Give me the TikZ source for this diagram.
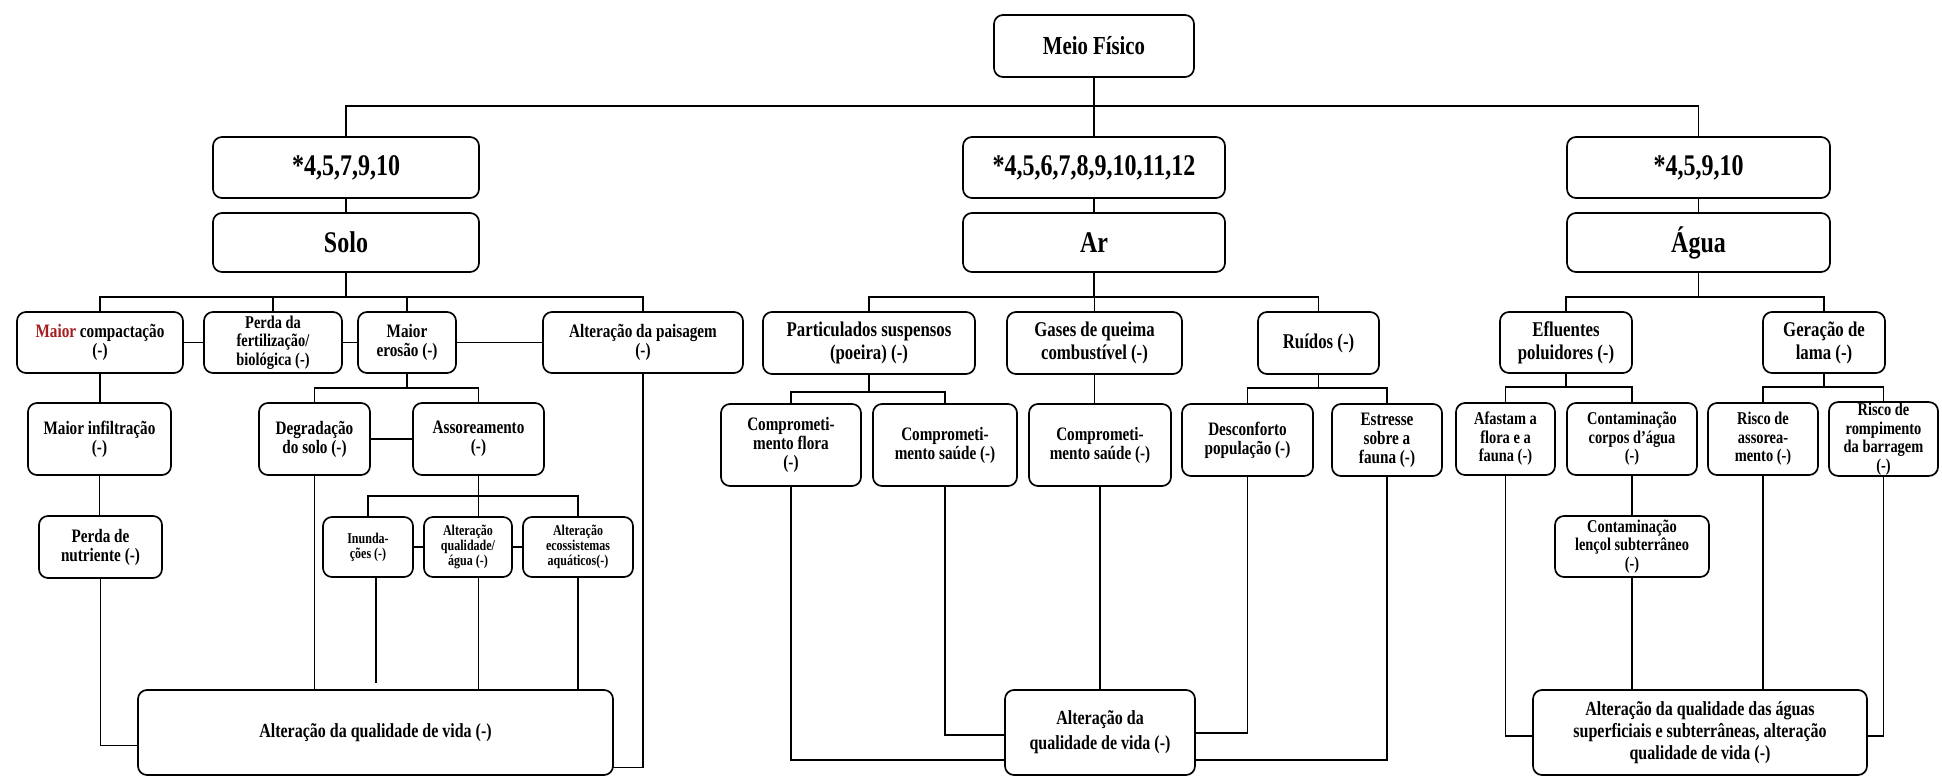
\documentclass[tikz,border=0pt]{standalone}
\usepackage{fontspec}
\setmainfont{Liberation Serif}[FakeStretch=0.8]
\usetikzlibrary{calc}
\definecolor{darkred}{RGB}{165,30,30}
\tikzset{
  box/.style={draw, rounded corners=9pt, line width=1.7pt, align=center, inner sep=1pt, outer sep=0pt},
  head/.style={font=\bfseries\fontsize{30}{32}\selectfont},
  meiof/.style={font=\bfseries\fontsize{26}{28}\selectfont},
  fbig/.style={font=\bfseries\fontsize{21}{23}\selectfont},
  fmid/.style={font=\bfseries\fontsize{19}{19}\selectfont},
  fsm/.style={font=\bfseries\fontsize{18}{18.5}\selectfont},
  fxs/.style={font=\bfseries\fontsize{15}{14.8}\selectfont},
  fbot/.style={font=\bfseries\fontsize{20}{22}\selectfont},
  fbotm/.style={font=\bfseries\fontsize{20}{25}\selectfont},
  conn/.style={line width=1.4pt},
}
\newcommand{\mybox}[7][]{\node[box,minimum width={(#5)-(#3)},minimum height={(#6)-(#4)},#1] (#2) at ({((#3)+(#5))/2},{((#4)+(#6))/2}) {#7};}
\begin{document}
\begin{tikzpicture}[x=1pt,y=-1pt]
\useasboundingbox (0,0) rectangle (1942,778);
\coordinate (bS) at (0,297);
\coordinate (bT) at (0,106);
% top levels
\mybox[meiof]{meio}{994}{15}{1194}{77}{Meio Físico}
\mybox[head]{sL}{213}{137}{479}{198}{*4,5,7,9,10}
\mybox[head]{sM}{963}{137}{1225}{198}{*4,5,6,7,8,9,10,11,12}
\mybox[head]{sR}{1567}{137}{1830}{198}{*4,5,9,10}
\mybox[head]{solo}{213}{213}{479}{272}{Solo}
\mybox[head]{ar}{963}{213}{1225}{272}{Ar}
\mybox[head]{agua}{1567}{213}{1830}{272}{Água}
% row 1
\mybox[fmid]{mc}{17}{312}{183}{373}{{\color{darkred}Maior} compactação\\(-)}
\mybox[fsm]{pf}{204}{312}{342}{373}{Perda da\\fertilização/\\biológica (-)}
\mybox[fmid]{me}{358}{312}{456}{373}{Maior\\erosão (-)}
\mybox[fmid]{pa}{543}{312}{743}{373}{Alteração da paisagem\\(-)}
\mybox[fbig]{pt}{763}{312}{975}{374}{Particulados suspensos\\(poeira) (-)}
\mybox[fbig]{gq}{1007}{312}{1182}{374}{Gases de queima\\combustível (-)}
\mybox[fbig]{ru}{1258}{312}{1379}{374}{Ruídos (-)}
\mybox[fbig]{ef}{1500}{312}{1632}{373}{Efluentes\\poluidores (-)}
\mybox[fbig]{gl}{1763}{312}{1885}{373}{Geração de\\lama (-)}
% row 2
\mybox[fmid]{mi}{28}{403}{171}{475}{Maior infiltração\\(-)}
\mybox[fmid]{dg}{259}{403}{370}{475}{Degradação\\do solo (-)}
\mybox[fmid]{as}{413}{403}{544}{475}{Assoreamento\\(-)}
\mybox[fmid]{cf}{721}{404}{861}{486}{Comprometi-\\mento flora\\(-)}
\mybox[fmid]{cs}{873}{404}{1017}{486}{Comprometi-\\mento  saúde (-)}
\mybox[fmid]{csb}{1029}{404}{1171}{486}{Comprometi-\\mento saúde (-)}
\mybox[fmid]{dc}{1182}{404}{1313}{476}{Desconforto\\população (-)}
\mybox[fmid]{es}{1332}{404}{1442}{476}{Estresse\\sobre a\\fauna (-)}
\mybox[fsm]{af}{1456}{403}{1555}{475}{Afastam a\\flora e a\\fauna (-)}
\mybox[fsm]{cc}{1567}{403}{1697}{475}{Contaminação\\corpos d'água\\(-)}
\mybox[fsm]{ra}{1708}{403}{1818}{475}{Risco de\\assorea-\\mento (-)}
\mybox[fsm]{rr}{1829}{403}{1938}{475}{Risco de\\rompimento\\da barragem\\(-)}
% row 3
\mybox[fmid]{pn}{39}{516}{162}{578}{Perda de\\nutriente (-)}
\mybox[fxs]{in}{323}{517}{413}{577}{Inunda-\\ções (-)}
\mybox[fxs]{aq}{424}{517}{512}{577}{Alteração\\qualidade/\\água (-)}
\mybox[fxs]{ae}{523}{517}{633}{577}{Alteração\\ecossistemas\\aquáticos(-)}
\mybox[fsm]{cl}{1555}{516}{1709}{577}{Contaminação\\lençol subterrâneo\\(-)}
% bottom
\mybox[fbot]{bl}{138}{690}{613}{775}{Alteração da qualidade  de vida (-)}
\mybox[fbotm]{bm}{1005}{690}{1195}{775}{Alteração da\\qualidade de vida (-)}
\mybox[fbot]{br}{1533}{690}{1867}{775}{Alteração da qualidade das águas\\superficiais e subterrâneas, alteração\\qualidade de vida (-)}

% ---- connectors: top
\draw[conn] (meio.south) -- (sM.north);
\draw[conn] (sL.north) -- (sL.north |- bT) -| (sR.north);
\draw[conn] (sL.south) -- (solo.north);
\draw[conn] (sM.south) -- (ar.north);
\draw[conn] (sR.south) -- (agua.north);
% Solo
\draw[conn] (solo.south) -- (solo.south |- bS);
\draw[conn] (mc.north) -- (mc.north |- bS) -| (pa.north);
\draw[conn] (pf.north) -- (pf.north |- bS);
\draw[conn] (me.north) -- (me.north |- bS);
\draw[conn] (mc.east) -- (pf.west);
\draw[conn] (pf.east) -- (me.west);
\draw[conn] (me.east) -- (pa.west);
\draw[conn] (mc.south) -- (mc.south |- mi.north);
\draw[conn] (mi.south) -- (mi.south |- pn.north);
\draw[conn] (me.south) -- ++(0,15);
\draw[conn] (dg.north) |- ($(me.south)+(0,15)$) -| (as.north);
\draw[conn] (dg.east) -- (as.west);
\draw[conn] (as.south) -- (as.south |- aq.north);
\draw[conn] (in.north) |- ($(as.south)+(0,21)$) -| (ae.north);
\draw[conn] (in.east) -- (aq.west);
\draw[conn] (aq.east) -- (ae.west);
\draw[conn] (pn.south) |- ($(bl.west)+(0,13)$);
\draw[conn] (dg.south) -- (dg.south |- bl.north);
\draw[conn] ($(in.south)+(8,0)$) -- ++(0,106);
\draw[conn] (aq.south -| as.south) -- (bl.north -| as.south);
\draw[conn] (ae.south) -- (ae.south |- bl.north);
\draw[conn] (pa.south) |- ($(bl.east)+(0,35)$);
% Ar
\draw[conn] (ar.south) -- (ar.south |- bS);
\draw[conn] (pt.north) -- (pt.north |- bS) -| (ru.north);
\draw[conn] (gq.north) -- (gq.north |- bS);
\draw[conn] (pt.south) -- ++(0,18);
\draw[conn] (cf.north) |- ($(pt.south)+(0,18)$) -| (cs.north);
\draw[conn] (gq.south) -- (gq.south |- csb.north);
\draw[conn] (ru.south) -- ++(0,14);
\draw[conn] (dc.north) |- ($(ru.south)+(0,14)$) -| (es.north);
\draw[conn] (cf.south) |- ($(bm.west)+(0,27.5)$);
\draw[conn] (cs.south) |- ($(bm.west)+(0,2.5)$);
\draw[conn] (csb.south) -- (csb.south |- bm.north);
\draw[conn] (dc.south) |- ($(bm.east)+(0,0.5)$);
\draw[conn] (es.south) |- ($(bm.east)+(0,27.5)$);
% Agua
\draw[conn] (agua.south) -- (agua.south |- bS);
\draw[conn] (ef.north) -- (ef.north |- bS) -| (gl.north);
\draw[conn] (ef.south) -- ++(0,14);
\draw[conn] (af.north) |- ($(ef.south)+(0,14)$) -| (cc.north);
\draw[conn] (gl.south) -- ++(0,14);
\draw[conn] (ra.north) |- ($(gl.south)+(0,14)$) -| (rr.north);
\draw[conn] (cc.south) -- (cc.south |- cl.north);
\draw[conn] (cl.south) -- (cl.south |- br.north);
\draw[conn] (af.south) |- ($(br.west)+(0,3.5)$);
\draw[conn] (ra.south) -- (ra.south |- br.north);
\draw[conn] (rr.south) |- ($(br.east)+(0,3.5)$);
\end{tikzpicture}
\end{document}
